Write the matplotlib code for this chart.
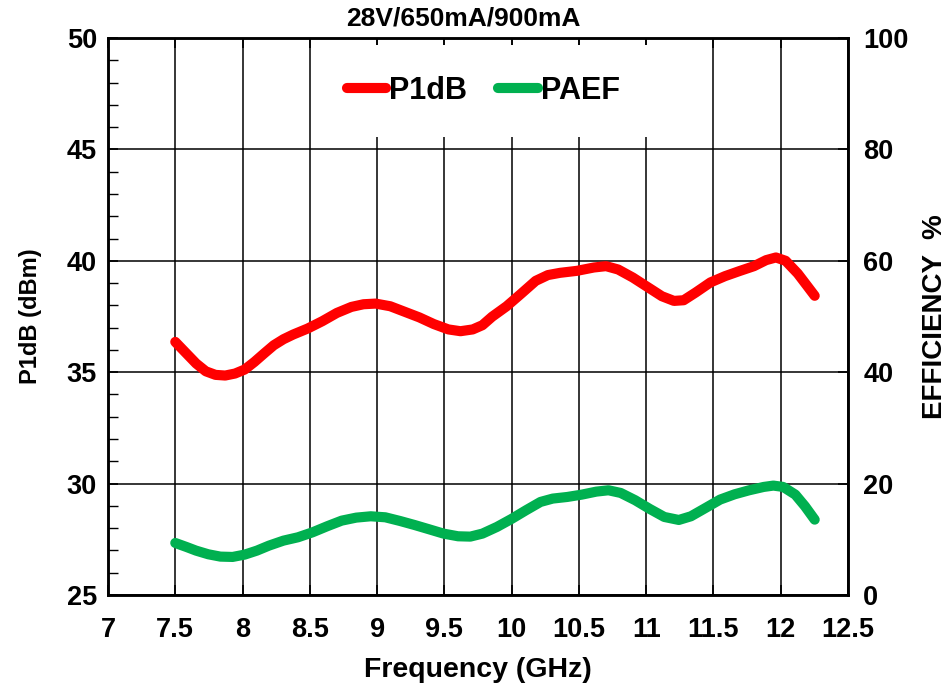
import matplotlib
matplotlib.use("Agg")
import matplotlib.pyplot as plt
from matplotlib.ticker import MultipleLocator
from matplotlib.patches import Rectangle

plt.rcParams["font.family"] = ["Liberation Sans", "DejaVu Sans"]
plt.rcParams["font.weight"] = "bold"

# points (GHz, dBm)
freq_p1db = [7.500, 7.583, 7.655, 7.727, 7.799, 7.871, 7.944, 8.016, 8.088, 8.160,
             8.232, 8.304, 8.376, 8.484, 8.593, 8.701, 8.809, 8.899, 8.989, 9.098,
             9.206, 9.314, 9.422, 9.530, 9.620, 9.711, 9.783, 9.855, 9.963, 10.072,
             10.179, 10.270, 10.360, 10.486, 10.612, 10.702, 10.792, 10.901, 11.009,
             11.117, 11.207, 11.279, 11.369, 11.478, 11.586, 11.694, 11.802, 11.892,
             11.965, 12.037, 12.127, 12.199, 12.253]
p1db = [36.36, 35.84, 35.39, 35.04, 34.88, 34.85, 34.94, 35.12, 35.46, 35.84,
        36.21, 36.48, 36.69, 36.96, 37.29, 37.66, 37.93, 38.05, 38.08, 37.96,
        37.71, 37.46, 37.16, 36.92, 36.84, 36.92, 37.11, 37.49, 37.96, 38.53,
        39.10, 39.36, 39.46, 39.55, 39.70, 39.76, 39.61, 39.25, 38.83,
        38.41, 38.20, 38.23, 38.58, 39.03, 39.31, 39.54, 39.76, 40.03,
        40.15, 40.00, 39.43, 38.86, 38.43]

# points (GHz, %)
freq_paef = [7.500, 7.583, 7.655, 7.745, 7.835, 7.926, 8.016, 8.106, 8.196, 8.304,
             8.412, 8.521, 8.629, 8.737, 8.845, 8.953, 9.061, 9.170, 9.278, 9.386,
             9.494, 9.602, 9.693, 9.783, 9.891, 9.999, 10.107, 10.215, 10.306, 10.414,
             10.522, 10.630, 10.720, 10.811, 10.919, 11.027, 11.135, 11.243, 11.333,
             11.442, 11.550, 11.658, 11.766, 11.874, 11.946, 12.019, 12.109, 12.181,
             12.253]
paef = [9.34, 8.62, 7.96, 7.31, 6.89, 6.83, 7.25, 7.96, 8.86, 9.76,
        10.36, 11.26, 12.34, 13.35, 13.89, 14.13, 13.95, 13.29, 12.57, 11.80,
        11.02, 10.54, 10.48, 11.02, 12.22, 13.65, 15.21, 16.71, 17.31, 17.60,
        18.02, 18.56, 18.80, 18.32, 17.01, 15.45, 14.01, 13.47, 14.13,
        15.63, 17.13, 18.08, 18.80, 19.40, 19.64, 19.40, 18.02, 15.93,
        13.53]

x_ticks = [7, 7.5, 8, 8.5, 9, 9.5, 10, 10.5, 11, 11.5, 12, 12.5]
x_labels = ["7", "7.5", "8", "8.5", "9", "9.5", "10", "10.5", "11", "11.5", "12", "12.5"]

fig = plt.figure(figsize=(9.51, 6.9), dpi=100)
ax1 = fig.add_axes([0.1136, 0.1377, 0.778, 0.8072])
ax2 = ax1.twinx()

line1, = ax1.plot(freq_p1db, p1db, color="#FF0000", lw=7.3,
                  solid_capstyle="round", solid_joinstyle="round", label="P1dB", zorder=3)
line2, = ax2.plot(freq_paef, paef, color="#00B050", lw=7.3,
                  solid_capstyle="round", solid_joinstyle="round", label="PAEF", zorder=3)

ax1.set_xlim(7, 12.5)
ax1.set_ylim(25, 50)
ax2.set_ylim(0, 100)

ax1.set_xticks(x_ticks)
ax1.set_xticklabels(x_labels)
ax1.yaxis.set_major_locator(MultipleLocator(5))
ax1.yaxis.set_minor_locator(MultipleLocator(1))
ax2.yaxis.set_major_locator(MultipleLocator(20))

ax1.grid(True, which="major", color="black", lw=1.1)
ax1.set_axisbelow(True)

ax1.tick_params(axis="x", direction="in", top=True, length=7, width=1.2,
                labelsize=19.5, pad=16)
ax1.tick_params(axis="y", which="major", direction="in", length=7, width=1.2,
                labelsize=19.5, pad=8)
ax1.tick_params(axis="y", which="minor", direction="in", length=7, width=1.0)
ax2.tick_params(axis="y", direction="in", length=7, width=1.2, labelsize=19.5, pad=11)

for ax in (ax1, ax2):
    for s in ax.spines.values():
        s.set_linewidth(1.8)
        s.set_color("black")

# white legend background box that hides the grid behind it
ax1.add_patch(Rectangle((0.307, 0.822), 0.466, 0.166, transform=ax1.transAxes,
                        facecolor="white", edgecolor="none", zorder=1))

ax1.set_xlabel("Frequency (GHz)", fontsize=20.5, fontweight="bold", labelpad=10)
ax1.set_ylabel("P1dB (dBm)", fontsize=17, fontweight="bold", labelpad=18)
ax2.set_ylabel("EFFICIENCY  %", fontsize=20, fontweight="bold", labelpad=10)
ax1.set_title("28V/650mA/900mA", fontsize=19, fontweight="bold", pad=9, x=0.48)

leg = ax2.legend([line1, line2], ["P1dB", "PAEF"], loc="center",
                 bbox_to_anchor=(0.507, 0.905), ncol=2, fontsize=22,
                 frameon=False, handlelength=1.3, handletextpad=0.1,
                 columnspacing=1.0)
leg.set_zorder(5)

fig.savefig("out.png", dpi=100)
